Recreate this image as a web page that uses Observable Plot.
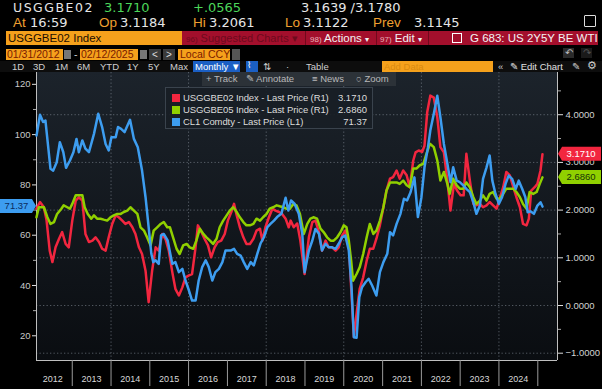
<!DOCTYPE html>
<html><head><meta charset="utf-8">
<script src="https://cdn.jsdelivr.net/npm/d3@7"></script>
<script src="https://cdn.jsdelivr.net/npm/@observablehq/plot@0.6"></script>
<style>
html,body{margin:0;padding:0;background:#000;}
#wrap{position:relative;width:602px;height:389px;overflow:hidden;background:#000;font-family:"Liberation Sans",Arial,sans-serif;}
.t{position:absolute;white-space:nowrap;line-height:14px;font-family:"DejaVu Sans",sans-serif;font-size:13px;}
.s{position:absolute;white-space:nowrap;font-family:"Liberation Sans",Arial,sans-serif;}
.w{color:#e6e6e6}.g{color:#4cd65a}.o{color:#f0a030;font-family:"Liberation Sans",Arial,sans-serif;font-size:13.5px}
.box{position:absolute;}
</style></head><body>
<div id="wrap">
  <!-- header rows -->
  <div class="t w" style="left:13px;top:1px;font-size:12.5px;letter-spacing:1.5px">USGGBE02</div>
  <div class="t g" style="left:104px;top:1px;font-size:13px">3.1710</div>
  <div class="t g" style="left:193px;top:1px;font-size:13px">+.0565</div>
  <div class="t w" style="left:301px;top:1px;font-size:13px">3.1639 /3.1780</div>
  <div class="box" style="left:584px;top:15px;width:10px;height:10px;border:1.5px solid #ddd;border-radius:1px"></div>

  <div class="t o" style="left:13px;top:16px">At</div><div class="t w" style="left:30px;top:16px">16:59</div>
  <div class="t o" style="left:99px;top:16px">Op</div><div class="t w" style="left:120px;top:16px">3.1184</div>
  <div class="t o" style="left:193px;top:16px">Hi</div><div class="t w" style="left:209px;top:16px">3.2061</div>
  <div class="t o" style="left:285px;top:16px">Lo</div><div class="t w" style="left:303px;top:16px">3.1122</div>
  <div class="t o" style="left:373px;top:16px">Prev</div><div class="t w" style="left:414px;top:16px">3.1145</div>

  <div class="box" style="left:6px;top:31px;width:176px;height:14px;background:#f5a11c"></div>
  <div class="s" style="left:8px;top:31px;line-height:14px;font-size:11.5px;color:#1c0e00">USGGBE02 Index</div>
  <div class="box" style="left:182px;top:31px;width:416px;height:14px;background:#a30f2c"></div>
  <div class="s" style="left:186px;top:31px;line-height:14px;font-size:11px;color:#6d0a1d"><span style="font-size:8px">96)</span> Suggested Charts ▾</div>
  <div class="box" style="left:305px;top:31px;width:1px;height:14px;background:#70091c"></div>
  <div class="box" style="left:376px;top:31px;width:1px;height:14px;background:#70091c"></div>
  <div class="box" style="left:428px;top:31px;width:1px;height:14px;background:#70091c"></div>
  <div class="s" style="left:310px;top:31px;line-height:14px;font-size:11.5px;color:#f2f2f2"><span style="font-size:8px;color:#e8b0b8">98)</span> Actions <span style="font-size:8px">▾</span></div>
  <div class="s" style="left:380px;top:31px;line-height:14px;font-size:11.5px;color:#f2f2f2"><span style="font-size:8px;color:#e8b0b8">97)</span> Edit <span style="font-size:8px">▾</span></div>
  <div class="box" style="left:452px;top:33px;width:8px;height:8px;border:1.5px solid #fff"></div>
  <div class="s" style="left:470px;top:31px;line-height:14px;font-size:11.5px;color:#f4f4f4">G 683: US 2Y5Y BE WTI</div>

  <div class="box" style="left:6px;top:49px;width:57px;height:11px;background:#f5a11c"></div>
  <div class="s" style="left:7px;top:49px;line-height:11px;font-size:10.5px;color:#7a1a00">01/31/2012</div>
  <div class="box" style="left:64px;top:50px;width:7px;height:9px;background:#777"></div>
  <div class="s" style="left:74px;top:49px;line-height:11px;font-size:10.5px;color:#ccc">-</div>
  <div class="box" style="left:80px;top:49px;width:58px;height:11px;background:#f5a11c"></div>
  <div class="s" style="left:81px;top:49px;line-height:11px;font-size:10.5px;color:#7a1a00">02/12/2025</div>
  <div class="box" style="left:140px;top:50px;width:7px;height:9px;background:#777"></div>
  <div class="box" style="left:149px;top:49px;width:12px;height:11px;background:#3a3a3a"></div>
  <div class="s" style="left:152px;top:49px;line-height:11px;font-size:10px;color:#ddd">&lt;</div>
  <div class="box" style="left:163px;top:49px;width:12px;height:11px;background:#3a3a3a"></div>
  <div class="s" style="left:166px;top:49px;line-height:11px;font-size:10px;color:#ddd">&gt;</div>
  <div class="box" style="left:178px;top:49px;width:52px;height:11px;background:#f5a11c"></div>
  <div class="s" style="left:180px;top:49px;line-height:11px;font-size:10.5px;color:#7a1a00">Local CCY</div>
  <div class="box" style="left:232px;top:49px;width:8px;height:11px;background:#555"></div>
  <div class="box" style="left:563px;top:48px;width:11px;height:10px;background:#2a2a2a"></div>
  <div class="s" style="left:565px;top:47px;line-height:11px;font-size:10px;color:#bbb">↶</div>
  <div class="box" style="left:581px;top:48px;width:11px;height:10px;background:#1a1a1a"></div>
  <div class="s" style="left:583px;top:47px;line-height:11px;font-size:10px;color:#555">↷</div>

  <div class="box" style="left:0;top:61px;width:602px;height:11px;background:#0d0d0d"></div>
  <div class="s" style="left:12px;top:61px;line-height:11px;font-size:9.5px;color:#cfcfcf">1D</div>
  <div class="s" style="left:33px;top:61px;line-height:11px;font-size:9.5px;color:#cfcfcf">3D</div>
  <div class="s" style="left:55px;top:61px;line-height:11px;font-size:9.5px;color:#cfcfcf">1M</div>
  <div class="s" style="left:77px;top:61px;line-height:11px;font-size:9.5px;color:#cfcfcf">6M</div>
  <div class="s" style="left:100px;top:61px;line-height:11px;font-size:9.5px;color:#cfcfcf">YTD</div>
  <div class="s" style="left:127px;top:61px;line-height:11px;font-size:9.5px;color:#cfcfcf">1Y</div>
  <div class="s" style="left:148px;top:61px;line-height:11px;font-size:9.5px;color:#cfcfcf">5Y</div>
  <div class="s" style="left:170px;top:61px;line-height:11px;font-size:9.5px;color:#cfcfcf">Max</div>
  <div class="box" style="left:193px;top:61px;width:47px;height:11px;background:#1b5fc4"></div>
  <div class="s" style="left:195px;top:61px;line-height:11px;font-size:9.5px;color:#fff">Monthly ▼</div>
  <div class="box" style="left:246px;top:61px;width:12px;height:11px;background:#1b5fc4"></div>
  <div class="s" style="left:247px;top:60px;line-height:11px;font-size:9px;color:#fff">⌇</div>
  <div class="s" style="left:263px;top:61px;line-height:11px;font-size:9.5px;color:#ccc">⇅</div>
  <div class="s" style="left:286px;top:61px;line-height:11px;font-size:9.5px;color:#ccc">·</div>
  <div class="s" style="left:306px;top:61px;line-height:11px;font-size:9.5px;color:#cfcfcf">Table</div>
  <div class="box" style="left:382px;top:61px;width:111px;height:11px;background:#f5a11c"></div>
  <div class="s" style="left:384px;top:61px;line-height:11px;font-size:9.5px;color:#d98a10">Add Data</div>
  <div class="s" style="left:498px;top:61px;line-height:11px;font-size:9.5px;color:#ccc">«</div>
  <div class="s" style="left:510px;top:61px;line-height:11px;font-size:9.5px;color:#e0e0e0">✎ Edit Chart</div>
  <div class="s" style="left:572px;top:61px;line-height:11px;font-size:9.5px;color:#ccc">✎</div>
  <div class="s" style="left:587px;top:60px;line-height:11px;font-size:10.5px;color:#ccc">⚙</div>

  <div id="bg" class="box" style="left:36px;top:72px;width:521px;height:288px;background:linear-gradient(#1c232b,#0a0d11)"></div>
  <div id="chart" class="box" style="left:0;top:70px"></div>

  <div class="box" style="left:202px;top:72px;width:194px;height:14px;background:#2c3238"></div>
  <div class="s" style="left:206px;top:73px;line-height:12px;font-size:9.5px;color:#b8b8b8">+ Track</div>
  <div class="s" style="left:246px;top:73px;line-height:12px;font-size:9.5px;color:#b8b8b8">✎ Annotate</div>
  <div class="s" style="left:312px;top:73px;line-height:12px;font-size:9.5px;color:#b8b8b8">≡ News</div>
  <div class="s" style="left:356px;top:73px;line-height:12px;font-size:9.5px;color:#b8b8b8">○ Zoom</div>

  <div id="legend" class="box" style="left:165px;top:87px;width:206px;height:40px;background:rgba(24,30,37,0.92);border:1px solid #3a434d"></div>
</div>
<script>
// ---------- data ----------
const seriesNames = ["USGGBE02 Index - Last Price (R1)", "USGGBE05 Index - Last Price (R1)", "CL1 Comdty - Last Price (L1)"];
const lastLabels = ["3.1710", "2.6860", "71.37"];
const seriesColors = ["#f2263f", "#90d000", "#3d9df0"];

const be2Years = [2012.08,2012.17,2012.27,2012.34,2012.42,2012.49,2012.57,2012.66,2012.74,2012.83,2012.91,2013.00,2013.09,2013.17,2013.26,2013.34,2013.43,2013.52,2013.60,2013.69,2013.77,2013.86,2013.94,2014.03,2014.12,2014.20,2014.29,2014.37,2014.46,2014.55,2014.63,2014.72,2014.80,2014.89,2014.97,2015.06,2015.15,2015.23,2015.32,2015.41,2015.49,2015.58,2015.66,2015.75,2015.84,2015.92,2016.01,2016.09,2016.18,2016.24,2016.33,2016.41,2016.50,2016.58,2016.67,2016.75,2016.84,2016.93,2017.01,2017.10,2017.17,2017.24,2017.32,2017.41,2017.49,2017.58,2017.67,2017.75,2017.84,2017.90,2017.98,2018.07,2018.16,2018.24,2018.33,2018.41,2018.50,2018.58,2018.63,2018.71,2018.80,2018.88,2018.99,2019.10,2019.19,2019.27,2019.36,2019.44,2019.53,2019.61,2019.70,2019.79,2019.87,2019.96,2020.04,2020.13,2020.19,2020.26,2020.33,2020.41,2020.50,2020.59,2020.67,2020.76,2020.84,2020.93,2021.02,2021.10,2021.19,2021.27,2021.36,2021.44,2021.53,2021.62,2021.70,2021.79,2021.85,2021.93,2022.02,2022.08,2022.15,2022.23,2022.32,2022.41,2022.49,2022.58,2022.67,2022.75,2022.84,2022.92,2023.01,2023.09,2023.16,2023.25,2023.34,2023.42,2023.51,2023.59,2023.68,2023.76,2023.85,2023.94,2024.02,2024.11,2024.19,2024.28,2024.37,2024.45,2024.54,2024.62,2024.71,2024.77,2024.83,2024.92,2024.99,2025.07,2025.12];
const be2Values = [2.03,2.17,2.06,1.78,1.15,0.91,1.22,1.40,1.54,1.29,1.22,1.78,2.20,2.27,2.20,1.50,1.33,1.36,1.43,1.33,1.19,1.15,1.43,1.71,1.89,1.85,1.78,1.71,1.75,1.64,1.50,1.22,1.08,0.73,0.07,0.73,1.22,1.15,1.50,1.38,1.15,0.70,0.35,0.21,0.38,0.59,0.63,0.66,1.22,1.68,1.54,1.40,1.26,1.01,1.22,1.33,1.36,1.50,1.78,1.96,2.13,1.89,1.64,1.43,1.29,1.29,1.40,1.57,1.61,1.36,1.64,1.85,2.03,1.99,1.96,1.92,1.82,1.64,1.78,1.64,1.72,1.36,0.66,1.43,1.75,1.78,1.54,1.15,1.36,1.22,1.22,1.15,1.22,1.47,1.57,1.29,0.38,-0.66,-0.17,0.35,0.59,0.94,1.19,1.19,1.40,1.68,2.06,2.41,2.66,2.69,2.83,2.66,2.83,2.73,2.48,3.04,3.21,3.25,3.22,3.35,4.05,4.40,4.36,3.95,3.32,3.21,2.62,1.99,2.55,2.41,2.31,2.31,3.18,2.62,2.13,2.10,2.13,2.06,2.10,2.17,2.10,2.03,2.24,2.48,2.80,2.73,2.48,2.27,2.06,1.71,1.68,1.82,2.41,2.48,2.55,2.83,3.171];

const be5Years = [2012.08,2012.14,2012.27,2012.36,2012.44,2012.53,2012.61,2012.72,2012.78,2012.87,2012.94,2013.00,2013.09,2013.17,2013.26,2013.32,2013.40,2013.49,2013.56,2013.64,2013.73,2013.81,2013.90,2013.99,2014.07,2014.16,2014.25,2014.33,2014.42,2014.50,2014.59,2014.68,2014.76,2014.85,2014.93,2015.02,2015.10,2015.19,2015.28,2015.36,2015.45,2015.52,2015.60,2015.69,2015.77,2015.86,2015.95,2016.03,2016.12,2016.20,2016.29,2016.38,2016.46,2016.55,2016.63,2016.72,2016.80,2016.89,2016.98,2017.06,2017.15,2017.24,2017.32,2017.41,2017.49,2017.58,2017.67,2017.75,2017.84,2017.92,2018.01,2018.09,2018.18,2018.27,2018.35,2018.44,2018.52,2018.61,2018.70,2018.78,2018.87,2018.97,2019.06,2019.14,2019.23,2019.31,2019.40,2019.48,2019.57,2019.66,2019.74,2019.83,2019.92,2020.00,2020.07,2020.13,2020.19,2020.24,2020.33,2020.41,2020.50,2020.59,2020.67,2020.76,2020.84,2020.93,2021.02,2021.10,2021.19,2021.27,2021.36,2021.44,2021.53,2021.62,2021.70,2021.79,2021.87,2021.96,2022.05,2022.13,2022.22,2022.32,2022.41,2022.49,2022.58,2022.67,2022.73,2022.82,2022.91,2022.99,2023.08,2023.16,2023.25,2023.34,2023.42,2023.51,2023.59,2023.68,2023.76,2023.85,2023.94,2024.02,2024.11,2024.19,2024.28,2024.37,2024.45,2024.54,2024.62,2024.71,2024.79,2024.88,2024.97,2025.05,2025.12];
const be5Values = [1.85,2.06,2.06,1.85,1.71,1.75,1.92,2.03,2.10,2.06,2.03,2.13,2.31,2.31,2.31,2.06,1.92,1.82,1.89,1.82,1.82,1.80,1.78,1.85,1.89,1.92,1.92,1.96,1.99,2.06,1.99,1.92,1.64,1.57,1.43,1.26,1.57,1.64,1.71,1.75,1.64,1.64,1.43,1.19,1.08,1.26,1.29,1.22,1.19,1.36,1.61,1.50,1.43,1.36,1.29,1.40,1.64,1.78,1.89,1.99,2.06,1.96,1.85,1.75,1.68,1.68,1.71,1.82,1.78,1.85,1.92,2.03,2.06,2.10,2.08,2.06,2.03,2.03,2.13,2.10,1.92,1.50,1.71,1.82,1.85,1.82,1.61,1.54,1.43,1.36,1.36,1.43,1.54,1.68,1.64,1.36,0.94,0.52,0.66,0.80,1.08,1.43,1.71,1.50,1.57,1.78,2.06,2.41,2.58,2.58,2.58,2.55,2.62,2.52,2.48,2.87,2.87,2.94,2.97,3.18,3.39,3.32,3.04,2.62,2.80,2.55,2.34,2.66,2.52,2.45,2.45,2.58,2.48,2.27,2.13,2.20,2.31,2.20,2.34,2.38,2.24,2.24,2.34,2.45,2.45,2.45,2.38,2.27,2.13,2.03,2.38,2.34,2.38,2.55,2.686];

const cl1Years = [2012.08,2012.17,2012.25,2012.31,2012.44,2012.51,2012.60,2012.68,2012.77,2012.84,2012.94,2013.03,2013.11,2013.17,2013.26,2013.34,2013.43,2013.56,2013.67,2013.77,2013.86,2013.94,2014.01,2014.12,2014.18,2014.26,2014.35,2014.49,2014.59,2014.69,2014.80,2014.89,2014.97,2015.04,2015.09,2015.15,2015.23,2015.29,2015.36,2015.46,2015.58,2015.66,2015.75,2015.84,2015.92,2016.01,2016.09,2016.18,2016.26,2016.35,2016.44,2016.52,2016.61,2016.69,2016.78,2016.87,2016.95,2017.08,2017.17,2017.25,2017.34,2017.42,2017.51,2017.60,2017.68,2017.77,2017.85,2017.94,2018.03,2018.11,2018.20,2018.28,2018.39,2018.50,2018.57,2018.64,2018.73,2018.84,2018.93,2018.99,2019.10,2019.19,2019.27,2019.36,2019.44,2019.53,2019.61,2019.70,2019.79,2019.87,2019.96,2020.04,2020.13,2020.20,2020.26,2020.33,2020.40,2020.47,2020.56,2020.64,2020.73,2020.84,2020.93,2021.02,2021.12,2021.19,2021.27,2021.36,2021.46,2021.55,2021.63,2021.72,2021.82,2021.91,2022.00,2022.08,2022.17,2022.23,2022.32,2022.41,2022.49,2022.58,2022.67,2022.75,2022.82,2022.91,2022.99,2023.08,2023.16,2023.25,2023.34,2023.42,2023.51,2023.59,2023.68,2023.76,2023.83,2023.91,2024.00,2024.08,2024.17,2024.25,2024.34,2024.43,2024.51,2024.60,2024.68,2024.74,2024.81,2024.90,2024.99,2025.07,2025.12];
const cl1Values = [99.6,107.9,105,105.6,86.4,85.7,89,97,93,86.8,89.7,93,98.3,93,97.7,94.4,93,100.3,108.3,103,96.3,93.7,99,99,103,102.3,101,105.9,98.3,95,85.7,75.1,63.2,52.6,49.3,50,48.6,59.9,60.5,57.9,48.6,49.3,45.3,46.6,42,38,34,34,42,47.3,50,47.3,42,45.3,46.6,49.3,53.9,53.9,54.6,52.6,51.9,49.3,46.6,49.3,48,52.6,56.6,59.2,63.2,64.5,65.8,67.2,68.5,74.9,69.8,73.8,72.5,68.5,60.6,45.3,53.9,57.9,62.5,60.6,53.9,56.6,55.2,55.2,54.6,56.6,59.2,59.9,53.9,39.3,19.4,19.2,35.4,39.3,41.3,42.7,40,36,45.3,49.3,52.6,61.2,59.9,64.5,68.5,74.5,73.8,77.1,83,67.2,75,87,95,101.6,108.3,115.5,106.9,96.3,88.4,81.1,87,81.7,81.1,79.8,78.4,77.1,73.1,68.5,71.8,82.4,87,91.7,81.7,76.5,72.5,75.1,80.4,83.7,82.4,78.4,81.7,78.4,75.1,69.1,69.5,68.5,71.8,73.1,71.37];

// axis ticks
const rightTicks = [-1, 0, 1, 2, 3, 4];
const rightMinor = [-0.5, 0.5, 1.5, 2.5, 3.5, 4.5];
const leftTicks = [20, 40, 60, 80, 100, 120];
const leftMinor = [30, 50, 70, 90, 110];
const yearLabels = ["2012","2013","2014","2015","2016","2017","2018","2019","2020","2021","2022","2023","2024"];
const yearBounds = [2013,2014,2015,2016,2017,2018,2019,2020,2021,2022,2023,2024,2025];
const gridYears = [2014,2016,2018,2020,2022,2024];

// ---------- scales ----------
const toDate = y => { const Y = Math.floor(y); const a = Date.UTC(Y,0,1), b = Date.UTC(Y+1,0,1); return new Date(a + (y - Y) * (b - a)); };
const yDomain = [-1.153, 4.885];
const xDomain = [toDate(2012.08), toDate(2025.508)];
// left (L1) axis aligned against right (R1) axis as in the picture
const leftToRight = d3.scaleLinear().domain([20, 120]).range([-0.635, 4.637]);

const mk = (ys, vs, f) => ys.map((y, i) => ({date: toDate(y), v: f ? f(vs[i]) : vs[i]}));
const be2 = mk(be2Years, be2Values);
const be5 = mk(be5Years, be5Values);
const cl1 = mk(cl1Years, cl1Values, c => leftToRight(c));

const gridStyle = {stroke: "#8a949e", strokeOpacity: 0.55, strokeDasharray: "1.3,2.2", strokeWidth: 1};

const chart = Plot.plot({
  width: 602, height: 319,
  marginTop: 2, marginBottom: 29, marginLeft: 36, marginRight: 45,
  style: {background: "transparent", color: "#cfcfcf", fontFamily: "'Liberation Sans', Arial, sans-serif", overflow: "visible"},
  x: {type: "utc", domain: xDomain},
  y: {domain: yDomain},
  marks: [
    Plot.gridY(rightTicks, gridStyle),
    Plot.gridX(gridYears.map(y => new Date(Date.UTC(y,0,1))), gridStyle),
    Plot.ruleX(xDomain, {stroke: "#bfbfbf", strokeWidth: 1}),
    Plot.ruleY([yDomain[0]], {stroke: "#bfbfbf", strokeWidth: 1}),
    Plot.axisY(rightTicks, {anchor: "right", tickSize: 5, tickPadding: 3, fontSize: 9.5, tickFormat: d3.format(".4f"), fill: "#d2d2d2", stroke: "#dddddd", label: null}),
    Plot.axisY(rightMinor, {anchor: "right", tickSize: 3, tickFormat: () => "", stroke: "#aaaaaa", label: null}),
    Plot.axisY(leftTicks.map(leftToRight), {anchor: "left", tickSize: 4, tickPadding: 2, fontSize: 9.5, tickFormat: d => String(Math.round(leftToRight.invert(d))), fill: "#c8c8c8", stroke: "#dddddd", label: null}),
    Plot.axisY(leftMinor.map(leftToRight), {anchor: "left", tickSize: 3, tickFormat: () => "", stroke: "#aaaaaa", label: null}),
    Plot.axisX(yearBounds.map(y => new Date(Date.UTC(y,0,1))), {anchor: "bottom", tickSize: 26, tickFormat: () => "", stroke: "#9a9a9a", label: null}),
    Plot.axisX(yearLabels.map(y => new Date(Date.UTC(+y,6,2))), {anchor: "bottom", tickSize: 0, tickPadding: 15, fontSize: 9, tickFormat: d => yearLabels[d.getUTCFullYear() - 2012], fill: "#d8d8d8", label: null}),
    Plot.line(be2, {x: "date", y: "v", stroke: seriesColors[0], strokeWidth: 2.5}),
    Plot.line(be5, {x: "date", y: "v", stroke: seriesColors[1], strokeWidth: 2.5}),
    Plot.line(cl1, {x: "date", y: "v", stroke: seriesColors[2], strokeWidth: 2.5})
  ]
});
document.getElementById("chart").appendChild(chart);

// last-value flags, positioned with the plot's own y scale
const ys = chart.scale("y");
const svg = d3.select(chart);
const lastVals = [be2Values[be2Values.length-1], be5Values[be5Values.length-1], leftToRight(cl1Values[cl1Values.length-1])];
function flag(v, side, bg, fg, label) {
  const yy = ys.apply(v);
  const g = svg.append("g");
  let pts, tx;
  if (side === "right") { pts = [[558,yy],[562,yy-7],[601,yy-7],[601,yy+7],[562,yy+7]]; tx = 581; }
  else { pts = [[0,yy-7],[32,yy-7],[36,yy],[32,yy+7],[0,yy+7]]; tx = 16.5; }
  g.append("polygon").attr("points", pts.map(p => p.join(",")).join(" ")).attr("fill", bg);
  g.append("text").attr("x", tx).attr("y", yy).attr("dy", "0.35em").attr("text-anchor", "middle")
    .attr("font-size", 9.5).attr("fill", fg).attr("font-family", "'Liberation Sans', Arial, sans-serif").text(label);
}
flag(lastVals[0], "right", seriesColors[0], "#ffffff", lastLabels[0]);
flag(lastVals[1], "right", seriesColors[1], "#17320a", lastLabels[1]);
flag(lastVals[2], "left", seriesColors[2], "#0b2c5e", lastLabels[2]);

// legend
const leg = document.getElementById("legend");
seriesNames.forEach((n, i) => {
  const top = 4 + i * 12;
  const sq = document.createElement("div");
  sq.style.cssText = `position:absolute;left:6px;top:${top+2}px;width:8px;height:8px;background:${seriesColors[i]}`;
  leg.appendChild(sq);
  const t = document.createElement("div");
  t.className = "s";
  t.style.cssText += `;left:17px;top:${top}px;line-height:12px;font-size:9.5px;letter-spacing:-0.1px;color:#dcdcdc`;
  t.textContent = n;
  leg.appendChild(t);
  const v = document.createElement("div");
  v.className = "s";
  v.style.cssText += `;right:5px;top:${top}px;line-height:12px;font-size:9.5px;color:#dcdcdc;text-align:right`;
  v.textContent = lastLabels[i];
  leg.appendChild(v);
});
</script>
</body></html>
